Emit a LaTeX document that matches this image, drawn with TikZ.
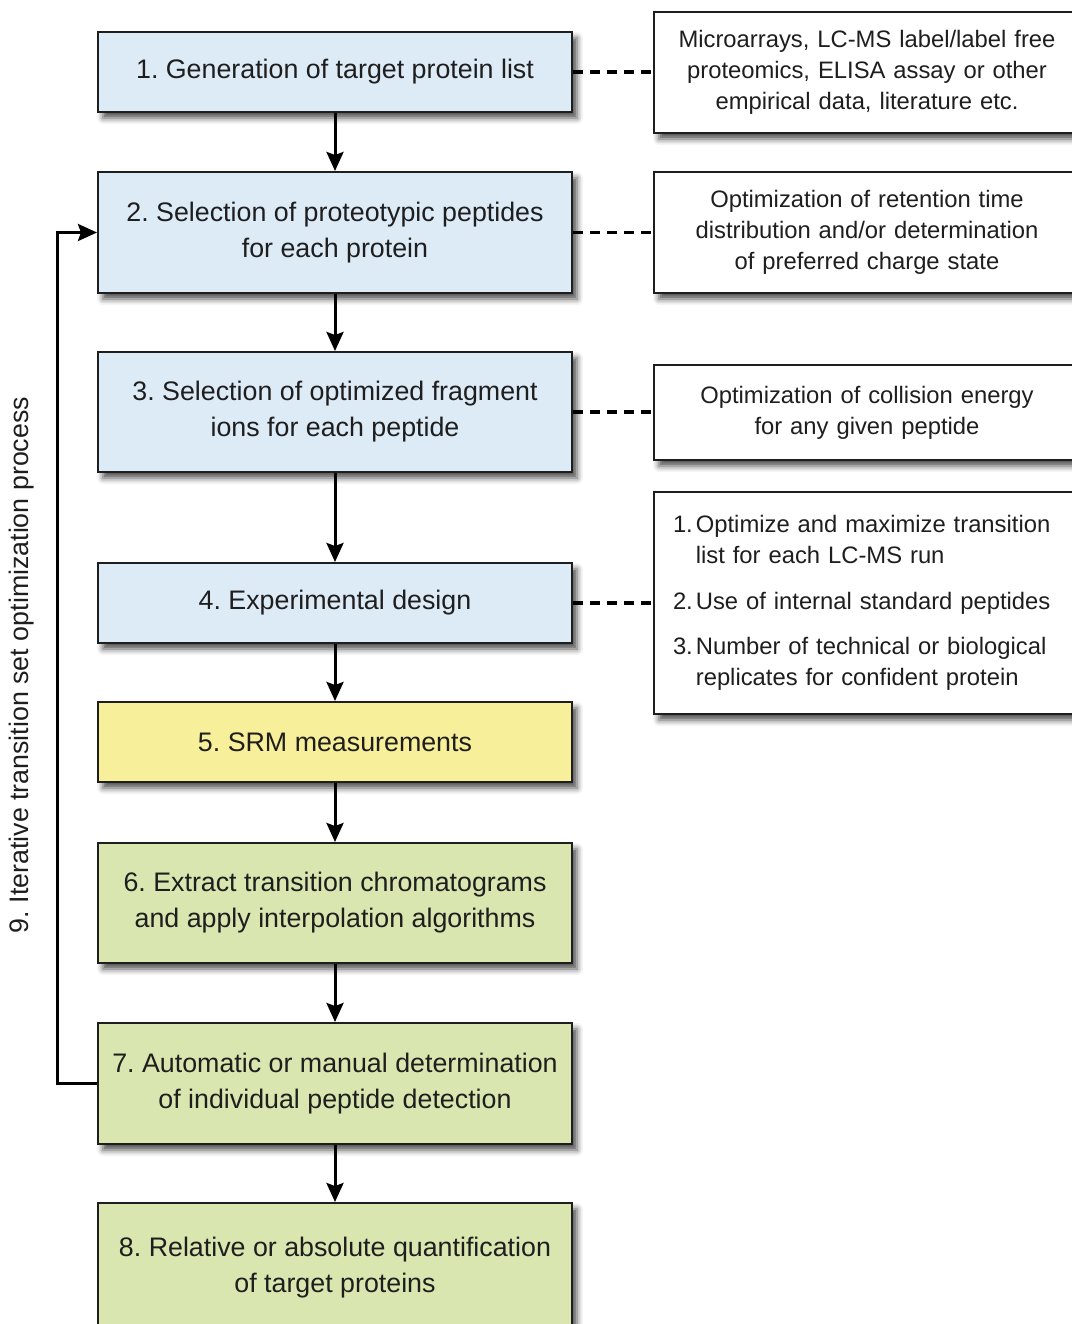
\documentclass[tikz,border=0pt]{standalone}
\usepackage{fontspec}
\setmainfont{Liberation Sans}
\frenchspacing
\usetikzlibrary{arrows.meta,shadows.blur}
\definecolor{bluef}{HTML}{DDEBF7}
\definecolor{yellf}{HTML}{F8EF9A}
\definecolor{greenf}{HTML}{D9E6B0}
\definecolor{ink}{HTML}{1E1E1E}
\begin{document}
\begin{tikzpicture}[x=1pt,y=-1pt,
  shad/.style={blur shadow={shadow xshift=5pt,shadow yshift=-6pt,shadow blur radius=6pt,shadow opacity=70}},
  box/.style={shad,draw=ink,line width=2pt,minimum width=474pt,inner sep=0pt,align=center,text=ink,font=\fontsize{26.8}{36}\selectfont},
  rbox/.style={shad,draw=ink,line width=2pt,fill=white,minimum width=426pt,inner xsep=19pt,inner ysep=0pt,text width=388pt,text=ink,font=\fontsize{23.8}{31}\selectfont},
  flow/.style={draw=black,line width=3pt,-{Stealth[length=19pt,width=17pt,inset=3pt]}},
  dashline/.style={draw=black,line width=3.5pt,dash pattern=on 10pt off 7pt}
]
\useasboundingbox (0,0) rectangle (1071,1324);

% main flow boxes
\node[box,fill=bluef,minimum height=80pt] (b1) at (335,72) {1. Generation of target protein list};
\node[box,fill=bluef,minimum height=121pt] (b2) at (335,232.5) {2. Selection of proteotypic peptides\\for each protein};
\node[box,fill=bluef,minimum height=120pt] (b3) at (335,412) {3. Selection of optimized fragment\\ions for each peptide};
\node[box,fill=bluef,minimum height=80pt] (b4) at (335,603) {4. Experimental design};
\node[box,fill=yellf,minimum height=80pt] (b5) at (335,742) {5. SRM measurements};
\node[box,fill=greenf,minimum height=120pt] (b6) at (335,903) {6. Extract transition chromatograms\\and apply interpolation algorithms};
\node[box,fill=greenf,minimum height=121pt] (b7) at (335,1083.5) {7. Automatic or manual determination\\of individual peptide detection};
\node[box,fill=greenf,minimum height=130pt] (b8) at (335,1268) {8. Relative or absolute quantification\\of target proteins};

% side boxes
\node[rbox,align=center,minimum height=121pt] (r1) at (867,72.5) {Microarrays, LC-MS label/label free\\proteomics, ELISA assay or other\\empirical data, literature etc.};
\node[rbox,align=center,minimum height=121pt] (r2) at (867,232.5) {Optimization of retention time\\distribution and/or determination\\of preferred charge state};
\node[rbox,align=center,minimum height=95pt] (r3) at (867,412.5) {Optimization of collision energy\\for any given peptide};
\node[rbox,align=left,minimum height=222pt] (r4) at (867,603) {\begin{tabular}{@{}r@{\hspace{3pt}}l@{}}
1. & Optimize and maximize transition\\
   & list for each LC-MS run\\[15pt]
2. & Use of internal standard peptides\\[14pt]
3. & Number of technical or biological\\
   & replicates for confident protein
\end{tabular}};

% vertical label
\node[rotate=90,text=ink,font=\fontsize{26.8}{36}\selectfont] (lab) at (22,665) {9. Iterative transition set optimization process};

% flow arrows
\draw[flow] (b1) -- (b2);
\draw[flow] (b2) -- (b3);
\draw[flow] (b3) -- (b4);
\draw[flow] (b4) -- (b5);
\draw[flow] (b5) -- (b6);
\draw[flow] (b6) -- (b7);
\draw[flow] (b7) -- (b8);

% feedback loop
\draw[flow] (b7.west) -- ++(-40,0) |- (b2.west);

% dashed links
\draw[dashline] (b1.east) -- (b1.east -| r1.west);
\draw[dashline] (b2.east) -- (b2.east -| r2.west);
\draw[dashline] (b3.east) -- (b3.east -| r3.west);
\draw[dashline] (b4.east) -- (b4.east -| r4.west);
\end{tikzpicture}
\end{document}
